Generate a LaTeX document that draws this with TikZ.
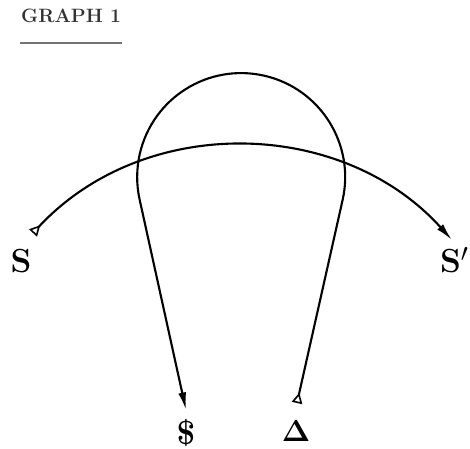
\documentclass[tikz,border=0pt]{standalone}
\usepackage{amsmath,amssymb}
\usepackage{xcolor}
\usetikzlibrary{arrows.meta, calc}

\begin{document}
\begin{tikzpicture}[
    curve/.style={line width=1.2pt, black},
    flowtail/.style={{Triangle[open,reversed,length=6pt,width=6pt,line width=0.9pt]}-{Latex[length=10pt,width=4.5pt]}},
    biglabel/.style={font=\bfseries\fontsize{19}{22}\selectfont},
]
\useasboundingbox (0,0) rectangle (9.4,8.98);

% Title
\node[font=\bfseries\fontsize{11}{13}\selectfont, text=black!80, anchor=west] (title) at (0.3, 8.66) {GRAPH 1};
\draw[line width=1.4pt, black!55] (0.4, 8.12) -- (2.44, 8.12);

% End points of the two paths
\coordinate (stail) at (0.66, 4.32);
\coordinate (stip) at (9.04, 4.18);
\coordinate (dtail) at (5.94, 0.92);
\coordinate (looprt) at (6.85, 4.97);
\coordinate (dolltip) at (3.72, 0.78);

% Labels
\node[biglabel] (S) at (0.42, 3.76) {S};
\node[biglabel, anchor=east, inner sep=0.5pt] (Sp) at (9.4, 3.78) {S$'$};
\node[biglabel] (dollar) at (3.72, 0.32) {\$};
\node[biglabel] (delta) at (5.92, 0.36) {$\mathbf{\Delta}$};

% Wide arc from S to S'
\draw[curve, flowtail] (stail) to[out=47, in=132] (stip);

% Loop from Delta round to $
\draw[curve, flowtail] (dtail) -- (looprt)
    arc[start angle=-13, end angle=192.5, radius=2.08] -- (dolltip);

\end{tikzpicture}
\end{document}
